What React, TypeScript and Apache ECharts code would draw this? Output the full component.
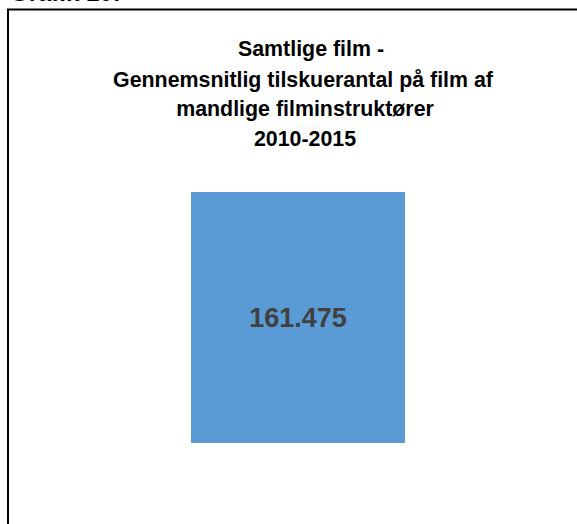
import React, { useEffect, useRef } from "react";
import * as echarts from "echarts";

const categories = ["Mandlige filminstruktører"];
const values = [161475];
const titleLines = [
  "Samtlige film -",
  "Gennemsnitlig tilskuerantal på film af",
  "mandlige filminstruktører",
  "2010-2015",
];
const heading = "Grafik 10:";

const fmt = (v: number) => String(Math.round(v)).replace(/\B(?=(\d{3})+(?!\d))/g, ".");

export default function App() {
  const ref = useRef<HTMLDivElement>(null);
  useEffect(() => {
    if (!ref.current) return;
    const chart = echarts.init(ref.current, null, { renderer: "svg" });
    const font = "'Liberation Sans', Arial, sans-serif";
    const lineY = [48, 79, 108, 138];
    const lineX = [311, 303, 305, 305];
    chart.setOption({
      animation: false,
      backgroundColor: "#ffffff",
      grid: { left: 191, top: 192, width: 214, height: 251, containLabel: false },
      xAxis: {
        type: "category",
        data: categories,
        show: false,
      },
      yAxis: {
        type: "value",
        min: 0,
        max: values[0],
        show: false,
      },
      series: [
        {
          type: "bar",
          data: values,
          barWidth: "100%",
          itemStyle: { color: "#5B9BD5" },
          label: {
            show: true,
            position: "inside",
            formatter: (p: any) => fmt(p.value),
            color: "#404040",
            fontFamily: font,
            fontWeight: "bold",
            fontSize: 27,
          },
        },
      ],
      graphic: [
        {
          type: "rect",
          shape: { x: 8, y: 9.5, width: 600, height: 560 },
          style: { fill: "none", stroke: "#000", lineWidth: 2 },
          silent: true,
        },
        {
          type: "text",
          x: 10,
          y: 4,
          style: {
            text: heading,
            fill: "#000",
            font: `bold 24px ${font}`,
            textAlign: "left",
            textVerticalAlign: "bottom",
          },
        },
        ...titleLines.map((t, i) => ({
          type: "text",
          x: lineX[i],
          y: lineY[i],
          scaleX: 0.93,
          style: {
            text: t,
            fill: "#000",
            font: `bold 23px ${font}`,
            textAlign: "center",
            textVerticalAlign: "middle",
          },
        })),
      ],
    });
    return () => chart.dispose();
  }, []);
  return (
    <div
      ref={ref}
      style={{ position: "absolute", left: 0, top: 0, width: 577, height: 524 }}
    />
  );
}
